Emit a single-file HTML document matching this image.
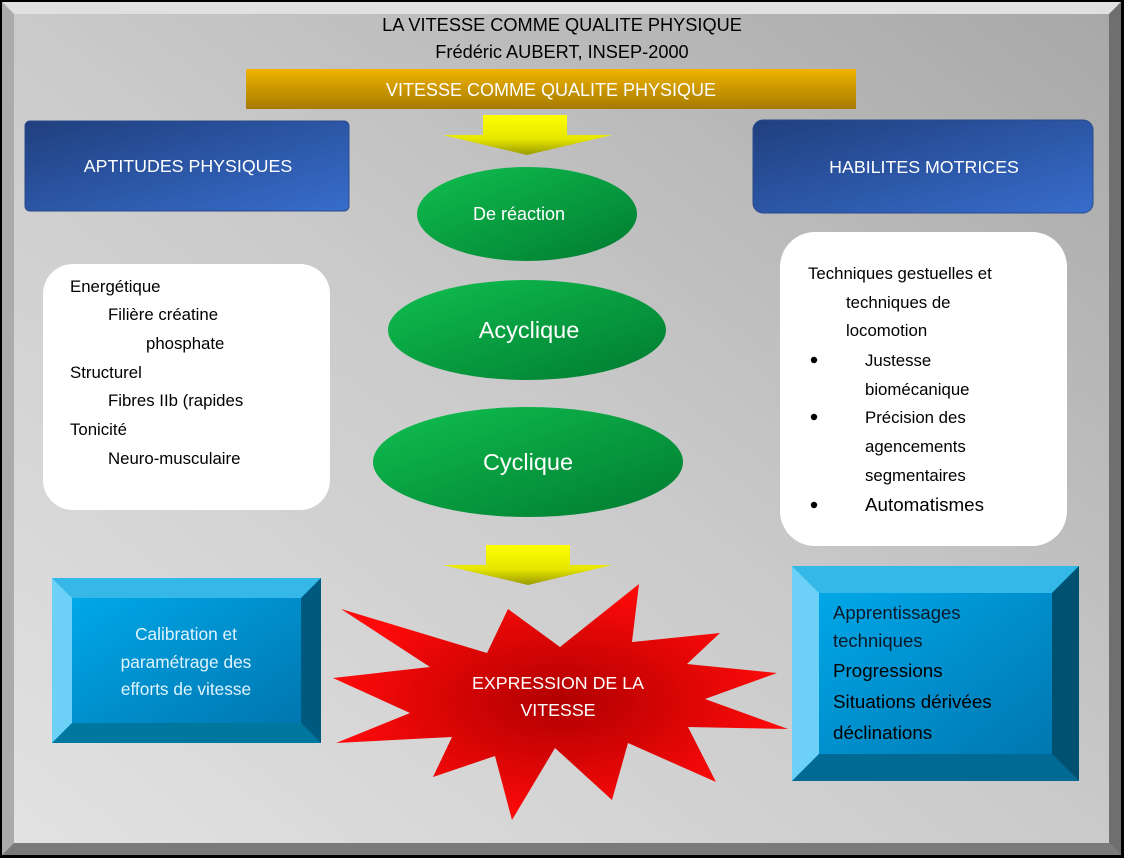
<!DOCTYPE html>
<html><head><meta charset="utf-8"><style>
body{margin:0;width:1124px;height:858px;overflow:hidden;background:#fff}
svg text{font-family:"Liberation Sans",sans-serif}
</style></head><body>
<svg width="1124" height="858" viewBox="0 0 1124 858" xmlns="http://www.w3.org/2000/svg">
<defs>
<linearGradient id="bg" x1="0" y1="1" x2="1" y2="0"><stop offset="0" stop-color="#e2e2e2"/><stop offset="0.5" stop-color="#cacaca"/><stop offset="1" stop-color="#a8a8a8"/></linearGradient>
<linearGradient id="or" x1="0" y1="0" x2="0" y2="1"><stop offset="0" stop-color="#f0b400"/><stop offset="1" stop-color="#a67a00"/></linearGradient>
<linearGradient id="bl" x1="0" y1="0" x2="1" y2="1"><stop offset="0" stop-color="#203f7e"/><stop offset="1" stop-color="#376dcc"/></linearGradient>
<linearGradient id="ye" x1="0" y1="0" x2="0" y2="1"><stop offset="0" stop-color="#ffff00"/><stop offset="0.6" stop-color="#e6e600"/><stop offset="1" stop-color="#9a9a00"/></linearGradient>
<linearGradient id="gr" x1="0" y1="0" x2="1" y2="1"><stop offset="0" stop-color="#10c050"/><stop offset="1" stop-color="#007a30"/></linearGradient>
<radialGradient id="rd" cx="0.5" cy="0.5" r="0.5"><stop offset="0" stop-color="#b00000"/><stop offset="1" stop-color="#ff0a0a"/></radialGradient>
<linearGradient id="cy" x1="0" y1="0" x2="1" y2="1"><stop offset="0" stop-color="#00aef0"/><stop offset="1" stop-color="#0070a8"/></linearGradient>
</defs>
<rect x="0" y="0" width="1124" height="858" fill="#000"/>
<rect x="2" y="2" width="1119" height="853" fill="#bdbdbd"/>
<polygon points="2,2 1121,2 1109,14 14,14" fill="#e0e0e0"/>
<polygon points="2,2 14,14 14,843 2,855" fill="#ababab"/>
<polygon points="1121,2 1121,855 1109,843 1109,14" fill="#6f6f6f"/>
<polygon points="2,855 1121,855 1109,843 14,843" fill="#7a7a7a"/>
<rect x="14" y="14" width="1095" height="829" fill="url(#bg)"/>
<text x="562" y="31" font-size="18.2" text-anchor="middle" fill="#000">LA VITESSE COMME QUALITE PHYSIQUE</text>
<text x="562" y="58" font-size="18.2" text-anchor="middle" fill="#000">Frédéric AUBERT, INSEP-2000</text>
<rect x="246" y="69" width="610" height="40" fill="url(#or)"/>
<text x="551" y="96" font-size="18" text-anchor="middle" fill="#fff">VITESSE COMME QUALITE PHYSIQUE</text>
<rect x="25" y="121" width="324" height="90" rx="5" fill="url(#bl)" stroke="#2a4a8a"/>
<text x="188" y="172" font-size="17.8" text-anchor="middle" fill="#fff">APTITUDES PHYSIQUES</text>
<rect x="753" y="120" width="340" height="93" rx="10" fill="url(#bl)" stroke="#2a4a8a"/>
<text x="924" y="173" font-size="17.8" text-anchor="middle" fill="#fff">HABILITES MOTRICES</text>
<polygon points="483,115 567,115 567,135 612,135 527,155 443,135 483,135" fill="url(#ye)"/>
<polygon points="486,545 570,545 570,565 612,565 528,585 443,565 486,565" fill="url(#ye)"/>
<ellipse cx="527" cy="214" rx="110" ry="47" fill="url(#gr)"/>
<text x="519" y="220" font-size="18" text-anchor="middle" fill="#fff">De réaction</text>
<ellipse cx="527" cy="330" rx="139" ry="50" fill="url(#gr)"/>
<text x="529" y="338" font-size="23.5" text-anchor="middle" fill="#fff">Acyclique</text>
<ellipse cx="528" cy="462" rx="155" ry="55" fill="url(#gr)"/>
<text x="528" y="470" font-size="23.5" text-anchor="middle" fill="#fff">Cyclique</text>
<rect x="43" y="264" width="287" height="246" rx="30" fill="#fff"/>
<g font-size="16.8" fill="#000">
<text x="70" y="292">Energétique</text>
<text x="108" y="320">Filière créatine</text>
<text x="146" y="349">phosphate</text>
<text x="70" y="378">Structurel</text>
<text x="108" y="406">Fibres IIb (rapides</text>
<text x="70" y="435">Tonicité</text>
<text x="108" y="464">Neuro-musculaire</text>
</g>
<rect x="780" y="232" width="287" height="314" rx="35" fill="#fff"/>
<g font-size="16.8" fill="#000">
<text x="808" y="279">Techniques gestuelles et</text>
<text x="846" y="308">techniques de</text>
<text x="846" y="336">locomotion</text>
<circle cx="814" cy="360" r="3.2"/><text x="865" y="366">Justesse</text>
<text x="865" y="395">biomécanique</text>
<circle cx="814" cy="417" r="3.2"/><text x="865" y="423">Précision des</text>
<text x="865" y="452">agencements</text>
<text x="865" y="481">segmentaires</text>
<circle cx="814" cy="505" r="3.2"/><text x="865" y="511" font-size="18.8">Automatismes</text>
</g>
<polygon points="341,609 487,653 508,609 560,647 639,584 632,642 720,633 687,664 777,673 705,699 788,729 688,727 716,782 628,743 612,800 555,748 512,820 495,756 433,777 452,737 336,743 410,713 333,678 430,667" fill="url(#rd)"/>
<text x="558" y="689" font-size="17.8" text-anchor="middle" fill="#fff">EXPRESSION DE LA</text>
<text x="558" y="716" font-size="17.8" text-anchor="middle" fill="#fff">VITESSE</text>
<rect x="52" y="578" width="269" height="165" fill="url(#cy)"/>
<polygon points="52,578 321,578 301,598 72,598" fill="#35b8e8"/>
<polygon points="52,578 72,598 72,723 52,743" fill="#6dd0f7"/>
<polygon points="321,578 321,743 301,723 301,598" fill="#005a80"/>
<polygon points="52,743 321,743 301,723 72,723" fill="#00779e"/>
<g font-size="17.3" fill="#dff4ff" text-anchor="middle">
<text x="186" y="640">Calibration et</text>
<text x="186" y="668">paramétrage des</text>
<text x="186" y="695">efforts de vitesse</text>
</g>
<rect x="792" y="566" width="287" height="215" fill="url(#cy)"/>
<polygon points="792,566 1079,566 1052,593 819,593" fill="#33b8e8"/>
<polygon points="792,566 819,593 819,754 792,781" fill="#6dd0f7"/>
<polygon points="1079,566 1079,781 1052,754 1052,593" fill="#005070"/>
<polygon points="792,781 1079,781 1052,754 819,754" fill="#006a94"/>
<g fill="#000">
<text x="833" y="619" font-size="18.5" fill="#0a1a2a">Apprentissages</text>
<text x="833" y="647" font-size="18.5" fill="#0a1a2a">techniques</text>
<text x="833" y="677" font-size="18.8">Progressions</text>
<text x="833" y="708" font-size="18.8">Situations dérivées</text>
<text x="833" y="739" font-size="18.8">déclinations</text>
</g>
</svg>
</body></html>
